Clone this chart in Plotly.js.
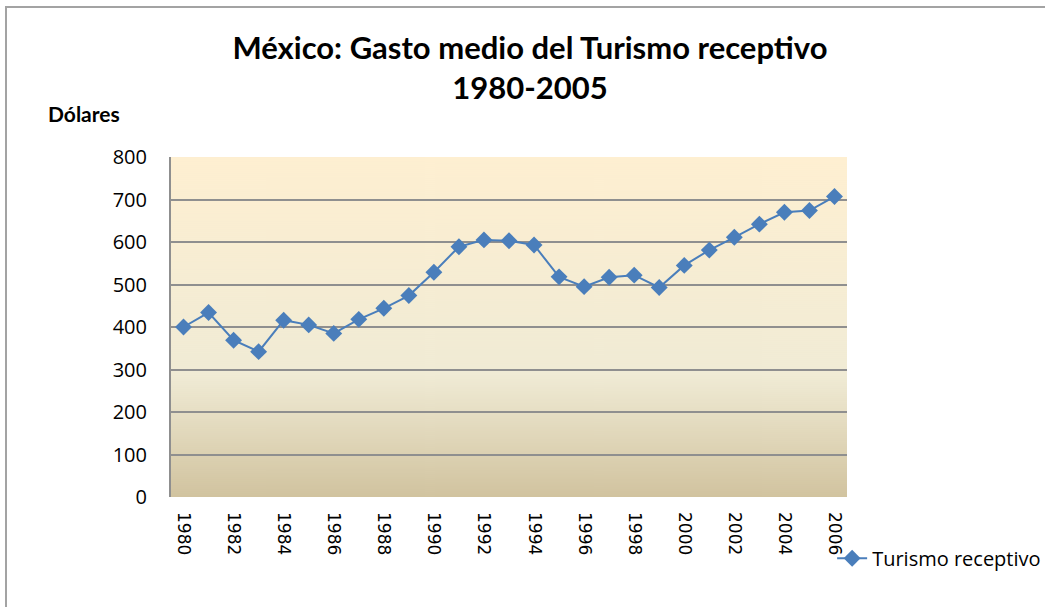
<!DOCTYPE html>
<html>
<head>
<meta charset="utf-8">
<script src="https://cdn.plot.ly/plotly-3.0.1.min.js"></script>
<style>
  html, body { margin:0; padding:0; background:#fff; overflow:hidden; }
  #chart { position:absolute; left:0; top:0; width:1045px; height:607px; }
  #frame { position:absolute; left:5px; top:6px; width:1100px; height:700px; border:2px solid #a3a3a3; pointer-events:none; }
</style>
</head>
<body>
<div id="chart"></div>
<div id="frame"></div>
<script>
const years = [1980,1981,1982,1983,1984,1985,1986,1987,1988,1989,1990,1991,1992,1993,1994,1995,1996,1997,1998,1999,2000,2001,2002,2003,2004,2005,2006];
const gasto = [400,434,369,342,416,405,385,418,444,474,529,589,605,603,593,518,495,517,522,493,545,581,611,642,670,674,707];
const seriesName = 'Turismo receptivo';
const titleText = '<b>México: Gasto medio del Turismo receptivo<br>1980-2005</b>';
const yLabel = '<b>Dólares</b>';

// background gradient (Excel "Parchment")
const cv = document.createElement('canvas');
cv.width = 4; cv.height = 340;
const ctx = cv.getContext('2d');
const g = ctx.createLinearGradient(0, 0, 0, 340);
g.addColorStop(0, '#FEEFD1');
g.addColorStop(0.64, '#F0EBD5');
g.addColorStop(1, '#D1C39F');
ctx.fillStyle = g;
ctx.fillRect(0, 0, 4, 340);
const bg = cv.toDataURL('image/png');

const trace = {
  x: years, y: gasto, name: seriesName, type: 'scatter', mode: 'lines+markers',
  line: {color: '#4a7ebb', width: 2},
  marker: {symbol: 'diamond', size: 13, color: '#4a7ebb', line: {color: '#4a7ebb', width: 0}}
};

const layout = {
  width: 1045, height: 607,
  margin: {l: 171, r: 198, t: 157, b: 110, autoexpand: false},
  paper_bgcolor: 'rgba(0,0,0,0)',
  plot_bgcolor: 'rgba(0,0,0,0)',
  font: {family: 'Open Sans, sans-serif', color: '#000'},
  title: {text: titleText, font: {family: 'Lato, sans-serif', size: 31, color: '#000'},
          xref: 'paper', x: 0.531, xanchor: 'center', yref: 'container', y: 1 - 59/607, yanchor: 'top'},
  xaxis: {type: 'linear', range: [1979.5, 2006.5], tick0: 1980, dtick: 2, tickangle: 90,
          showgrid: false, zeroline: false, showline: false, ticks: '',
          ticklabelstandoff: 14,
          tickfont: {family: 'DejaVu Sans, sans-serif', size: 17, color: '#000'}},
  yaxis: {range: [0, 800], dtick: 100, tick0: 0, showgrid: true, gridcolor: '#8f8f8f', gridwidth: 2,
          zeroline: false, showline: true, linecolor: '#8f8f8f', linewidth: 2, ticks: '',
          ticklabelstandoff: 18,
          tickfont: {family: 'Open Sans, sans-serif', size: 20, color: '#000'}},
  images: [{source: bg, xref: 'paper', yref: 'paper', x: 0, y: 1, sizex: 1, sizey: 1,
            sizing: 'stretch', xanchor: 'left', yanchor: 'top', layer: 'below'}],
  annotations: [{text: yLabel, xref: 'paper', yref: 'paper', x: (46-171)/676, y: (497-113)/340,
                 xanchor: 'left', yanchor: 'middle', showarrow: false,
                 font: {family: 'Lato, sans-serif', size: 21, color: '#000'}}],
  showlegend: true,
  legend: {x: 0.978, xanchor: 'left', y: -0.18, yanchor: 'middle', bgcolor: 'rgba(0,0,0,0)',
           font: {family: 'Open Sans, sans-serif', size: 20, color: '#000'}}
};

Plotly.newPlot('chart', [trace], layout, {displayModeBar: false, staticPlot: true});
</script>
</body>
</html>
